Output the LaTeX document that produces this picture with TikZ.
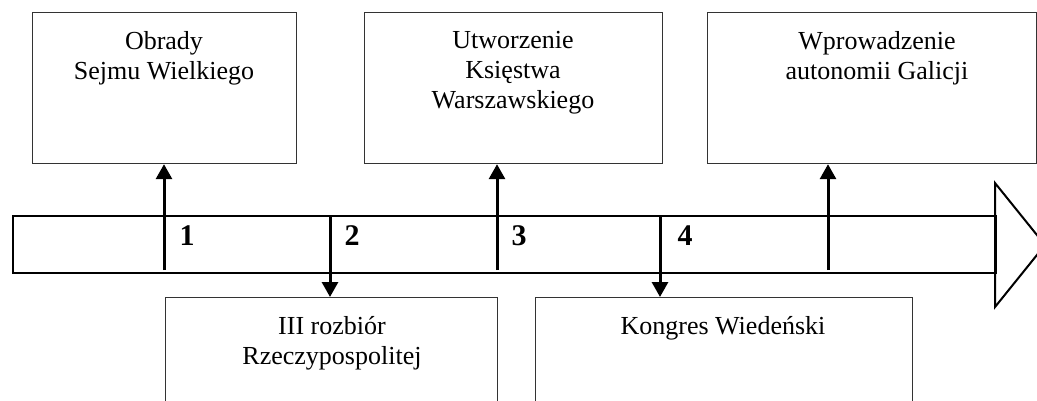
\documentclass[tikz,border=0pt]{standalone}
\usepackage{fontspec}
\setmainfont{Liberation Serif}
\usetikzlibrary{arrows.meta}
\begin{document}
\begin{tikzpicture}[x=1pt,y=-1pt,
  box/.style={draw=black!80,line width=1.2pt,rectangle,inner sep=0pt,anchor=north west},
  lbl/.style={font=\fontsize{26}{30}\selectfont,align=center,anchor=north,inner sep=0pt},
  num/.style={font=\fontsize{30}{30}\selectfont\bfseries,anchor=base,inner sep=0pt},
  band/.style={draw=black,line width=2pt,line join=miter},
  ev/.style={line width=3pt,-{Triangle[length=15pt,width=16pt]}}]
\useasboundingbox (0,0) rectangle (1037,400);
\clip (0,0) rectangle (1037,400);
% boxes above
\node[box,minimum width=264pt,minimum height=151pt] (b1) at (32,12) {};
\node[box,minimum width=298pt,minimum height=151pt] (b2) at (364,12) {};
\node[box,minimum width=329pt,minimum height=151pt] (b3) at (707,12) {};
% boxes below
\node[box,minimum width=332pt,minimum height=130pt] (ba) at (165,297) {};
\node[box,minimum width=377pt,minimum height=130pt] (bb) at (535,297) {};
% labels
\node[lbl] (t1) at (164,31.5) {Obrady\\Sejmu Wielkiego};
\node[lbl] (t2) at (513,31.5) {Utworzenie\\Księstwa\\Warszawskiego};
\node[lbl] (t3) at (877,31.5) {Wprowadzenie\\autonomii Galicji};
\node[lbl] (ta) at (332,316.5) {III rozbiór\\Rzeczypospolitej};
\node[lbl] (tb) at (723,316.5) {Kongres Wiedeński};
% time band
\node[band,rectangle,inner sep=0pt,anchor=north west,minimum width=983pt,minimum height=57pt] (band) at (12,215) {};
\coordinate (tA) at (995,183);
\coordinate (tB) at (1045,245);
\coordinate (tC) at (995,307);
\draw[band] (tA) -- (tB) -- (tC) -- cycle;
% event arrows
\coordinate (p1) at (164,270);
\coordinate (p2) at (330,215);
\coordinate (p3) at (497,270);
\coordinate (p4) at (660,215);
\coordinate (p5) at (828,270);
\draw[ev] (p1) -- (p1 |- b1.south);
\draw[ev] (p2) -- (p2 |- ba.north);
\draw[ev] (p3) -- (p3 |- b2.south);
\draw[ev] (p4) -- (p4 |- bb.north);
\draw[ev] (p5) -- (p5 |- b3.south);
% numbers
\node[num] (n1) at (187,245) {1};
\node[num] (n2) at (352,245) {2};
\node[num] (n3) at (519,245) {3};
\node[num] (n4) at (685,245) {4};
\end{tikzpicture}
\end{document}
